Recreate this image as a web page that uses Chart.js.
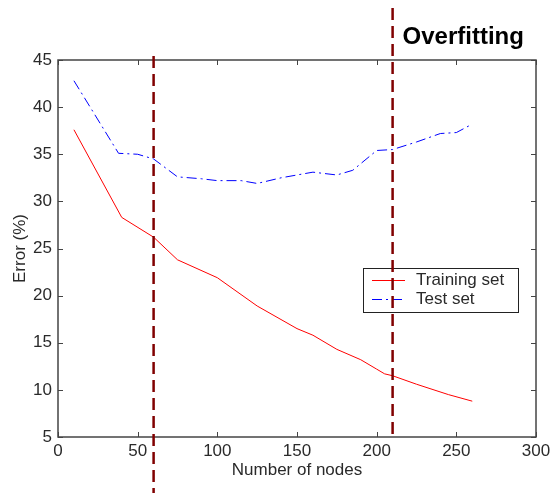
<!DOCTYPE html>
<html>
<head>
<meta charset="utf-8">
<script src="https://cdn.jsdelivr.net/npm/chart.js@4"></script>
<style>
  body { margin: 0; background: #fff; }
  #wrap { width: 551px; height: 493px; }
</style>
</head>
<body>
<div id="wrap"><canvas id="errChart" width="551" height="493"></canvas></div>
<script>
// data
const trainX = [10, 40, 60, 75, 100, 125, 150, 160, 175, 190, 200, 205, 210, 225, 245, 260];
const trainErr = [37.6, 28.3, 26.2, 23.8, 21.9, 18.9, 16.5, 15.8, 14.3, 13.2, 12.2, 11.7, 11.5, 10.6, 9.5, 8.8];
const testX = [10, 38, 50, 60, 75, 90, 100, 115, 125, 140, 160, 175, 185, 200, 210, 225, 240, 250, 260];
const testErr = [42.8, 35.1, 35.0, 34.5, 32.6, 32.4, 32.2, 32.2, 31.9, 32.5, 33.1, 32.8, 33.3, 35.4, 35.5, 36.3, 37.2, 37.3, 38.2];
const markerX = [60, 210];
const seriesNames = ["Training set", "Test set"];
const noteText = "Overfitting";

const FONT = "Arial, 'Liberation Sans', sans-serif";
const TXT = "#2a2a2a";

function pts(xs, ys) {
  return xs.map((x, i) => ({ x: x, y: ys[i] }));
}

function seg(ctx, x1, y1, x2, y2) {
  ctx.beginPath();
  ctx.moveTo(x1, y1);
  ctx.lineTo(x2, y2);
  ctx.stroke();
}

// box, inward ticks, legend, vertical markers, note
const overlay = {
  id: 'overlay',
  afterDraw(chart) {
    const { ctx, chartArea: a, scales: { x, y } } = chart;
    ctx.save();

    // axis box
    ctx.strokeStyle = '#444';
    ctx.lineWidth = 1.5;
    ctx.strokeRect(a.left, a.top, a.width, a.height);

    // ticks pointing in
    ctx.lineWidth = 1;
    x.ticks.forEach(t => {
      const px = Math.round(x.getPixelForValue(t.value)) + 0.5;
      seg(ctx, px, a.top, px, a.top + 5);
      seg(ctx, px, a.bottom, px, a.bottom - 5);
    });
    y.ticks.forEach(t => {
      const py = Math.round(y.getPixelForValue(t.value)) + 0.5;
      seg(ctx, a.left, py, a.left + 5, py);
      seg(ctx, a.right, py, a.right - 5, py);
    });

    // legend box
    const lx = a.right - 173, ly = 268, lw = 155, lh = 44;
    ctx.fillStyle = '#fff';
    ctx.fillRect(lx, ly, lw, lh);
    ctx.strokeStyle = '#222';
    ctx.lineWidth = 1;
    ctx.strokeRect(lx + 0.5, ly + 0.5, lw, lh);
    ctx.font = '17px ' + FONT;
    ctx.textBaseline = 'middle';
    chart.data.datasets.forEach((ds, i) => {
      const ry = ly + 12 + i * 19;
      ctx.strokeStyle = ds.borderColor;
      ctx.lineWidth = 1;
      ctx.setLineDash(ds.borderDash || []);
      seg(ctx, lx + 9, ry + 0.5, lx + 42, ry + 0.5);
      ctx.setLineDash([]);
      ctx.fillStyle = TXT;
      ctx.fillText(ds.label, lx + 53, ry);
    });

    // vertical dashed markers
    const tops = [56, 8], bottoms = [493, 440];
    ctx.strokeStyle = '#800000';
    ctx.lineWidth = 2.5;
    ctx.setLineDash([12, 6]);
    markerX.forEach((v, i) => {
      const px = x.getPixelForValue(v);
      seg(ctx, px, tops[i], px, bottoms[i]);
    });
    ctx.setLineDash([]);

    // note next to second marker
    ctx.fillStyle = '#000';
    ctx.font = 'bold 24px ' + FONT;
    ctx.textBaseline = 'middle';
    ctx.fillText(noteText, x.getPixelForValue(markerX[1]) + 10, 37);

    ctx.restore();
  }
};

new Chart(document.getElementById('errChart'), {
  type: 'line',
  data: {
    datasets: [
      {
        label: seriesNames[0],
        data: pts(trainX, trainErr),
        borderColor: '#ff0000',
        borderWidth: 1,
        pointRadius: 0,
        tension: 0,
        fill: false
      },
      {
        label: seriesNames[1],
        data: pts(testX, testErr),
        borderColor: '#0000ff',
        borderWidth: 1,
        borderDash: [10, 4, 2, 4],
        pointRadius: 0,
        tension: 0,
        fill: false
      }
    ]
  },
  options: {
    responsive: false,
    animation: false,
    layout: { padding: { left: 0, top: 60, right: 15, bottom: 0 } },
    plugins: {
      legend: { display: false },
      tooltip: { enabled: false }
    },
    scales: {
      x: {
        type: 'linear',
        min: 0,
        max: 300,
        grid: { display: false, drawTicks: false },
        border: { display: false },
        ticks: { stepSize: 50, padding: 4, color: TXT, font: { family: FONT, size: 17 }, maxRotation: 0 },
        title: { display: true, text: 'Number of nodes', color: TXT, font: { family: FONT, size: 17 }, padding: { top: 0, bottom: 12 } },
        afterFit: s => { s.height = 56; s.paddingLeft = 0; s.paddingRight = 0; }
      },
      y: {
        min: 5,
        max: 45,
        grid: { display: false, drawTicks: false },
        border: { display: false },
        ticks: { stepSize: 5, padding: 6, color: TXT, font: { family: FONT, size: 17 } },
        title: { display: true, text: 'Error (%)', color: TXT, font: { family: FONT, size: 17 }, padding: { top: 10, bottom: 0 } },
        afterFit: s => { s.width = 58; s.paddingTop = 0; s.paddingBottom = 0; }
      }
    }
  },
  plugins: [overlay]
});
</script>
</body>
</html>
